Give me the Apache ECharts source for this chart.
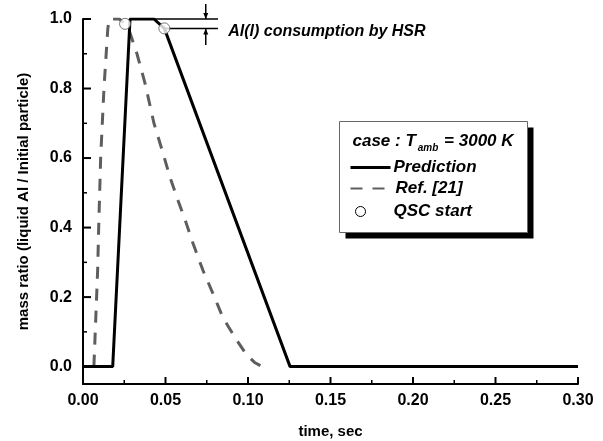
<!DOCTYPE html>
<html>
<head>
    <meta charset="utf-8">
    <title>Liquid Al mass ratio</title>
    <script src="https://cdn.jsdelivr.net/npm/echarts@6/dist/echarts.min.js"></script>
    <style>
        html, body { margin: 0; padding: 0; background: #fff; }
    </style>
</head>
<body>
    <div id="main" style="width: 603px; height: 441px;"></div>
    <script>
        // prediction (solid black)
        var predX = [0, 0.018, 0.0285, 0.043, 0.0493, 0.1255, 0.30];
        var predY = [0, 0, 1.0, 1.0, 0.973, 0, 0];

        // Ref. [21] (grey dashed)
        var refX = [0.0066, 0.0089, 0.0095, 0.0107, 0.0127, 0.0150, 0.0158, 0.0220, 0.0255, 0.0285,
                    0.0327, 0.0376, 0.0430, 0.0485, 0.0527, 0.0576, 0.0624, 0.0667, 0.0727, 0.0788,
                    0.0848, 0.0933, 0.0990, 0.1040, 0.1075];
        var refY = [0, 0.28, 0.40, 0.60, 0.80, 0.97, 1.0, 1.0, 0.986, 0.96,
                    0.90, 0.815, 0.70, 0.614, 0.545, 0.478, 0.415, 0.354, 0.277, 0.21,
                    0.141, 0.075, 0.035, 0.012, 0.003];

        // QSC start points
        var qscX = [0.0255, 0.0493];
        var qscY = [0.986, 0.973];

        // axes
        var xMin = 0, xMax = 0.30;
        var yMin = -0.05, yMax = 1.0;
        var xTicks = [0, 0.05, 0.10, 0.15, 0.20, 0.25, 0.30];
        var xMinor = [0.025, 0.075, 0.125, 0.175, 0.225, 0.275];
        var yTicks = [0, 0.2, 0.4, 0.6, 0.8, 1.0];
        var yMinor = [0.1, 0.3, 0.5, 0.7, 0.9];

        // "Al(l) consumption by HSR" annotation: levels and arrow
        var annoLevels = [1.0, 0.973];
        var annoStartX = [0.040, 0.0493];
        var annoEndX = 0.0818;
        var annoArrowX = 0.0744;
        var annoArrowFrom = [1.043, 0.925];
        var annoText = 'Al(l) consumption by HSR';
        var annoTextPos = [0.0880, 0.963];

        var chart = echarts.init(document.getElementById('main'));

        var boldFont = { fontFamily: 'Liberation Sans, Arial, sans-serif', fontWeight: 'bold', color: '#000' };
        var legendFont = 'italic bold 17px "Liberation Sans", Arial, sans-serif';

        function pairs(xs, ys) {
            return xs.map(function (x, i) { return [x, ys[i]]; });
        }

        function seg(a, b, w) {
            return { type: 'line', shape: { x1: a[0], y1: a[1], x2: b[0], y2: b[1] }, style: { stroke: '#000', lineWidth: w } };
        }

        var option = {
            backgroundColor: '#fff',
            animation: false,
            grid: { left: 83, right: 25, top: 19, bottom: 57, outerBoundsMode: 'none' },
            xAxis: {
                type: 'value',
                min: xMin,
                max: xMax,
                interval: 0.05,
                name: 'time, sec',
                nameLocation: 'middle',
                nameGap: 40,
                nameTextStyle: Object.assign({ fontSize: 15 }, boldFont),
                axisLine: { show: true, onZero: false, lineStyle: { color: '#000', width: 2 } },
                axisTick: { show: false },
                axisLabel: Object.assign({
                    fontSize: 16, margin: 9,
                    formatter: function (v) { return v.toFixed(2); }
                }, boldFont),
                splitLine: { show: false }
            },
            yAxis: {
                type: 'value',
                min: yMin,
                max: yMax,
                name: 'mass ratio (liquid Al / Initial particle)',
                nameLocation: 'middle',
                nameGap: 52,
                nameTextStyle: Object.assign({ fontSize: 15 }, boldFont),
                axisLine: { show: true, onZero: false, lineStyle: { color: '#000', width: 2 } },
                axisTick: { show: false },
                axisLabel: Object.assign({
                    fontSize: 16, margin: 11, customValues: yTicks,
                    formatter: function (v) { return v.toFixed(1); }
                }, boldFont),
                splitLine: { show: false }
            },
            series: [
                {
                    name: 'Ref. [21]',
                    type: 'line',
                    data: pairs(refX, refY),
                    showSymbol: false,
                    lineStyle: { color: '#5e5e5e', width: 3, type: [12, 10] },
                    z: 2
                },
                {
                    name: 'Prediction',
                    type: 'line',
                    data: pairs(predX, predY),
                    showSymbol: false,
                    lineStyle: { color: '#000', width: 3 },
                    z: 3
                },
                {
                    name: 'annotation',
                    type: 'custom',
                    clip: false,
                    data: [0],
                    z: 4,
                    renderItem: function (params, api) {
                        var children = [];
                        // axis frame and ticks
                        var o = api.coord([xMin, yMin]);
                        children.push(seg(o, api.coord([xMin, yMax]), 2));
                        children.push(seg(o, api.coord([xMax, yMin]), 2));
                        yTicks.forEach(function (v) {
                            var p = api.coord([xMin, v]);
                            children.push(seg(p, [p[0] + 8, p[1]], 2));
                        });
                        yMinor.forEach(function (v) {
                            var p = api.coord([xMin, v]);
                            children.push(seg(p, [p[0] + 4, p[1]], 1.5));
                        });
                        xTicks.forEach(function (v) {
                            var p = api.coord([v, yMin]);
                            children.push(seg(p, [p[0], p[1] - 7], 2));
                        });
                        xMinor.forEach(function (v) {
                            var p = api.coord([v, yMin]);
                            children.push(seg(p, [p[0], p[1] - 4], 1.5));
                        });
                        // HSR consumption marker
                        annoLevels.forEach(function (lv, i) {
                            children.push(seg(api.coord([annoStartX[i], lv]), api.coord([annoEndX, lv]), 1.5));
                            var f = api.coord([annoArrowX, annoArrowFrom[i]]);
                            var t = api.coord([annoArrowX, lv]);
                            children.push(seg(f, t, 1.5));
                            var dir = t[1] > f[1] ? 1 : -1;
                            children.push({
                                type: 'polygon',
                                shape: { points: [[t[0], t[1]], [t[0] - 2.5, t[1] - dir * 6], [t[0] + 2.5, t[1] - dir * 6]] },
                                style: { fill: '#000' }
                            });
                        });
                        var p = api.coord(annoTextPos);
                        children.push({
                            type: 'text',
                            x: p[0], y: p[1],
                            style: {
                                text: annoText,
                                font: 'italic bold 16px "Liberation Sans", Arial, sans-serif',
                                fill: '#000',
                                verticalAlign: 'middle'
                            }
                        });
                        return { type: 'group', children: children };
                    }
                },
                {
                    name: 'QSC start',
                    type: 'scatter',
                    data: pairs(qscX, qscY),
                    symbol: 'circle',
                    symbolSize: 11,
                    itemStyle: { color: '#fff', borderColor: '#555', borderWidth: 1 },
                    z: 5
                }
            ],
            graphic: [
                {
                    type: 'group',
                    left: 339,
                    top: 121,
                    children: [
                        { type: 'rect', shape: { x: 6, y: 6, width: 188, height: 111 }, style: { fill: '#000' } },
                        { type: 'rect', shape: { x: 0, y: 0, width: 188, height: 111 }, style: { fill: '#fff', stroke: '#666', lineWidth: 1 } },
                        {
                            type: 'text', x: 13, y: 20,
                            style: {
                                text: '{a|case : T}{s|amb}{a| = 3000 K}',
                                verticalAlign: 'middle',
                                rich: {
                                    a: { font: legendFont, fill: '#000' },
                                    s: { font: 'italic bold 10px "Liberation Sans", Arial, sans-serif', fill: '#000', padding: [14, 1, 0, 2] }
                                }
                            }
                        },
                        { type: 'line', shape: { x1: 11, y1: 46, x2: 51, y2: 46 }, style: { stroke: '#000', lineWidth: 3 } },
                        { type: 'text', x: 54, y: 46, style: { text: 'Prediction', font: legendFont, fill: '#000', verticalAlign: 'middle' } },
                        { type: 'line', shape: { x1: 11, y1: 67, x2: 51, y2: 67 }, style: { stroke: '#5e5e5e', lineWidth: 2, lineDash: [12, 10] } },
                        { type: 'text', x: 56, y: 67, style: { text: 'Ref. [21]', font: legendFont, fill: '#000', verticalAlign: 'middle' } },
                        { type: 'circle', shape: { cx: 21, cy: 90, r: 5 }, style: { fill: '#fff', stroke: '#000', lineWidth: 1 } },
                        { type: 'text', x: 54, y: 90, style: { text: 'QSC start', font: legendFont, fill: '#000', verticalAlign: 'middle' } }
                    ]
                }
            ]
        };

        chart.setOption(option);
    </script>
</body>
</html>
